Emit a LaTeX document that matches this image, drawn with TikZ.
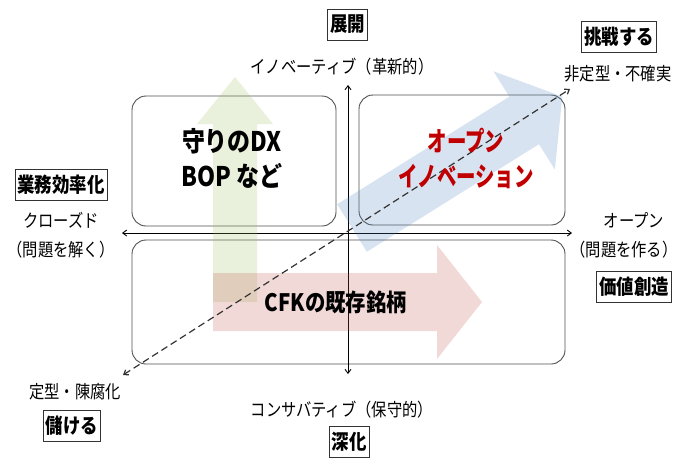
\documentclass[tikz,border=0pt]{standalone}
\usepackage{fontspec}
\setmainfont{Noto Sans CJK JP}[FakeStretch=0.85]
\newfontfamily\narrowjp{Noto Sans CJK JP}[FakeStretch=0.72]
\usetikzlibrary{arrows.meta}
\definecolor{gA}{HTML}{9BBB59}
\definecolor{rA}{HTML}{C0504D}
\definecolor{bA}{HTML}{4F81BD}
\definecolor{redtxt}{HTML}{C00000}
\definecolor{boxline}{HTML}{505050}
\begin{document}
\begin{tikzpicture}[x=1pt,y=1pt,
  lbl/.style={font=\fontsize{18}{21}\selectfont, inner sep=0pt},
  tag/.style={draw=black!80, line width=0.8pt, font=\bfseries\fontsize{20.5}{24}\selectfont, inner sep=2.5pt, minimum height=31pt},
  qbox/.style={draw=boxline, line width=0.9pt, rounded corners=14pt, inner sep=0pt},
  big/.style={font=\bfseries\fontsize{27}{35}\selectfont, align=center, inner sep=0pt},
  fat/.style={fill opacity=0.22},
  axis/.style={line width=0.9pt, black, {Straight Barb[length=4pt,width=6pt]}-{Straight Barb[length=4pt,width=6pt]}},
  diag/.style={line width=1.2pt, black!80, dash pattern=on 7pt off 4pt, {Straight Barb[length=4pt,width=6pt]}-{Straight Barb[length=4pt,width=6pt]}}
]
\useasboundingbox (0,0) rectangle (679,-459);

% quadrant boxes
\node[qbox, minimum width=204pt, minimum height=130pt] (tl) at (234,-161) {};
\node[qbox, minimum width=206pt, minimum height=130pt] (tr) at (462,-160) {};
\node[qbox, minimum width=433pt, minimum height=124pt] (bt) at (348.5,-302) {};

% axes
\coordinate (axL) at (122,-233);
\coordinate (axR) at (572,-233);
\coordinate (axT) at (348,-85);
\coordinate (axB) at (348,-374);
\draw[axis] (axL) -- (axR);
\draw[axis] (axB) -- (axT);

% fat arrows
\fill[gA, fat] (213,-302) -- (213,-124) -- (197,-124) -- (235,-77) -- (273,-124) -- (257,-124) -- (257,-302) -- cycle;
\fill[rA, fat] (213,-273) -- (437,-273) -- (437,-245) -- (482,-302) -- (437,-359) -- (437,-331) -- (213,-331) -- cycle;
\fill[bA, fat, shift={(352,-228)}, rotate=32] (0,-28) -- (203,-28) -- (203,-58) -- (248,0) -- (203,58) -- (203,28) -- (0,28) -- cycle;

% diagonal
\coordinate (dl) at (123,-375);
\coordinate (dr) at (570,-89);
\draw[diag] (dl) -- (dr);

% main texts
\node[big] (dx) at (232,-158) {守りのDX\\BOP など};
\node[big, text=redtxt, font=\narrowjp\bfseries\fontsize{27}{35}\selectfont] (oi) at (466,-158) {オープン\\イノベーション};
\node[big, font=\bfseries\fontsize{24}{28}\selectfont] (cfk) at (336,-302) {CFKの既存銘柄};

% axis labels
\node[tag] (t1) at (347.5,-24.5) {展開};
\node[lbl] (l1) at (342,-67) {イノベーティブ（革新的）};
\node[tag] (t2) at (619,-37) {挑戦する};
\node[lbl] (l2) at (618,-74) {非定型・不確実};
\node[tag] (t3) at (61,-185) {業務効率化};
\node[lbl] (l3) at (61,-220) {クローズド};
\node[lbl] (l4) at (61,-250) {（問題を解く）};
\node[lbl] (l5) at (634,-220) {オープン};
\node[lbl] (l6) at (624,-250) {（問題を作る）};
\node[tag] (t4) at (634,-287) {価値創造};
\node[lbl] (l7) at (75,-392) {定型・陳腐化};
\node[tag] (t5) at (72,-426) {儲ける};
\node[lbl] (l8) at (342,-410) {コンサバティブ（保守的）};
\node[tag] (t6) at (349,-442) {深化};
\end{tikzpicture}
\end{document}
